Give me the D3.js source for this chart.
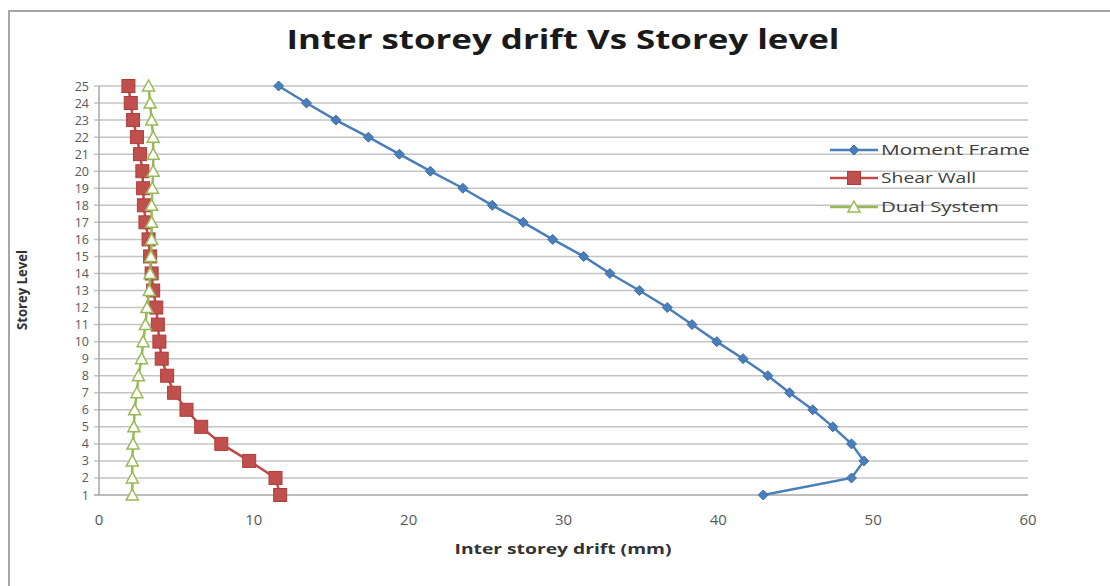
<!DOCTYPE html>
<html>
<head>
<meta charset="utf-8">
<script src="https://cdn.jsdelivr.net/npm/d3@7"></script>
<style>
  body { margin: 0; background: #fff; }
  text { font-family: "Open Sans", "DejaVu Sans", sans-serif; }
</style>
</head>
<body>
<script>
const levels = d3.range(1, 26);
// values listed from storey 1 up to storey 25
const momentFrame = [42.9, 48.6, 49.4, 48.6, 47.4, 46.1, 44.6, 43.2, 41.6, 39.9, 38.3, 36.7, 34.9, 33.0, 31.3, 29.3, 27.4, 25.4, 23.5, 21.4, 19.4, 17.4, 15.3, 13.4, 11.6];
const shearWall = [11.7, 11.4, 9.7, 7.9, 6.6, 5.65, 4.85, 4.4, 4.05, 3.9, 3.8, 3.7, 3.5, 3.4, 3.3, 3.2, 3.0, 2.9, 2.85, 2.8, 2.65, 2.45, 2.2, 2.05, 1.9];
const dualSystem = [2.15, 2.15, 2.15, 2.2, 2.25, 2.3, 2.45, 2.55, 2.75, 2.85, 3.0, 3.1, 3.25, 3.3, 3.35, 3.4, 3.4, 3.4, 3.45, 3.5, 3.5, 3.5, 3.4, 3.3, 3.2];
const xTicks = [0, 10, 20, 30, 40, 50, 60];
const seriesNames = ["Moment Frame", "Shear Wall", "Dual System"];

const width = 1110, height = 586;

const svg = d3.select("body").append("svg")
  .attr("width", width)
  .attr("height", height);

// chart frame (only left and top edges are visible in the picture)
svg.append("path")
  .attr("d", `M9,${height} V11 H${width}`)
  .attr("fill", "none")
  .attr("stroke", "#a6a6a6")
  .attr("stroke-width", 2);

const x = d3.scaleLinear().domain([0, 60]).range([99, 1028]);
const y = d3.scaleLinear().domain([1, 25]).range([495, 86]);

// gridlines
svg.append("g")
  .selectAll("line")
  .data(levels)
  .join("line")
  .attr("x1", x(0) - 5)
  .attr("x2", x(60))
  .attr("y1", d => y(d))
  .attr("y2", d => y(d))
  .attr("stroke", d => d === 1 ? "#a6a6a6" : "#c4c4c4")
  .attr("stroke-width", 1.5);

// y axis line
svg.append("line")
  .attr("x1", x(0)).attr("x2", x(0))
  .attr("y1", y(25)).attr("y2", y(1))
  .attr("stroke", "#a6a6a6")
  .attr("stroke-width", 1.5);

// y tick labels
svg.append("g")
  .selectAll("text")
  .data(levels)
  .join("text")
  .attr("x", 89)
  .attr("y", d => y(d))
  .attr("dy", "0.36em")
  .attr("text-anchor", "end")
  .attr("font-size", 12.5)
  .attr("fill", "#595959")
  .text(d => d);

// x tick labels
svg.append("g")
  .selectAll("text")
  .data(xTicks)
  .join("text")
  .attr("x", d => x(d))
  .attr("y", 520)
  .attr("dy", "0.36em")
  .attr("text-anchor", "middle")
  .attr("font-size", 15)
  .attr("fill", "#595959")
  .text(d => d);

// title
svg.append("text")
  .attr("x", 563)
  .attr("y", 49)
  .attr("text-anchor", "middle")
  .attr("font-size", 26)
  .attr("font-weight", "bold")
  .attr("fill", "#1a1a1a")
  .attr("textLength", 553)
  .attr("lengthAdjust", "spacingAndGlyphs")
  .text("Inter storey drift Vs Storey level");

// axis titles
svg.append("text")
  .attr("x", 563)
  .attr("y", 554)
  .attr("text-anchor", "middle")
  .attr("font-size", 14)
  .attr("font-weight", "bold")
  .attr("fill", "#333")
  .attr("textLength", 217)
  .attr("lengthAdjust", "spacingAndGlyphs")
  .text("Inter storey drift (mm)");

svg.append("text")
  .attr("transform", `translate(27,290) rotate(-90)`)
  .attr("text-anchor", "middle")
  .attr("font-size", 15)
  .attr("font-weight", "bold")
  .attr("fill", "#333")
  .attr("textLength", 80)
  .attr("lengthAdjust", "spacingAndGlyphs")
  .text("Storey Level");

const line = d3.line()
  .x(d => x(d[0]))
  .y(d => y(d[1]));

const series = [
  { name: seriesNames[0], values: momentFrame, color: "#4a7ebb", marker: "diamond" },
  { name: seriesNames[1], values: shearWall, color: "#be4b48", marker: "square" },
  { name: seriesNames[2], values: dualSystem, color: "#98b954", marker: "triangle" }
];

const drawMarker = (g, s, cx, cy) => {
  if (s.marker === "diamond") {
    g.append("path")
      .attr("d", `M${cx},${cy - 5} L${cx + 5},${cy} L${cx},${cy + 5} L${cx - 5},${cy} Z`)
      .attr("fill", s.color)
      .attr("stroke", "#3f6ea8");
  } else if (s.marker === "square") {
    g.append("rect")
      .attr("x", cx - 6.5).attr("y", cy - 6.5)
      .attr("width", 13).attr("height", 13)
      .attr("fill", "#c0504d")
      .attr("stroke", "#b03c39");
  } else {
    g.append("path")
      .attr("d", `M${cx},${cy - 6} L${cx + 6},${cy + 5} L${cx - 6},${cy + 5} Z`)
      .attr("fill", "#fff")
      .attr("stroke", s.color)
      .attr("stroke-width", 1.5);
  }
};

series.forEach(s => {
  const pts = s.values.map((v, i) => [v, levels[i]]);
  const g = svg.append("g");
  g.append("path")
    .attr("d", line(pts))
    .attr("fill", "none")
    .attr("stroke", s.color)
    .attr("stroke-width", 2.5);
  pts.forEach(p => drawMarker(g, s, x(p[0]), y(p[1])));
});

// legend
const legendY = [150, 178, 207];
const legendLen = [149, 95, 118];
series.forEach((s, i) => {
  const g = svg.append("g");
  g.append("line")
    .attr("x1", 830).attr("x2", 878)
    .attr("y1", legendY[i]).attr("y2", legendY[i])
    .attr("stroke", s.color)
    .attr("stroke-width", 2.5);
  drawMarker(g, s, 854, legendY[i]);
  g.append("text")
    .attr("x", 881)
    .attr("y", legendY[i])
    .attr("dy", "0.36em")
    .attr("font-size", 15)
    .attr("fill", "#404040")
    .attr("textLength", legendLen[i])
    .attr("lengthAdjust", "spacingAndGlyphs")
    .text(s.name);
});
</script>
</body>
</html>
